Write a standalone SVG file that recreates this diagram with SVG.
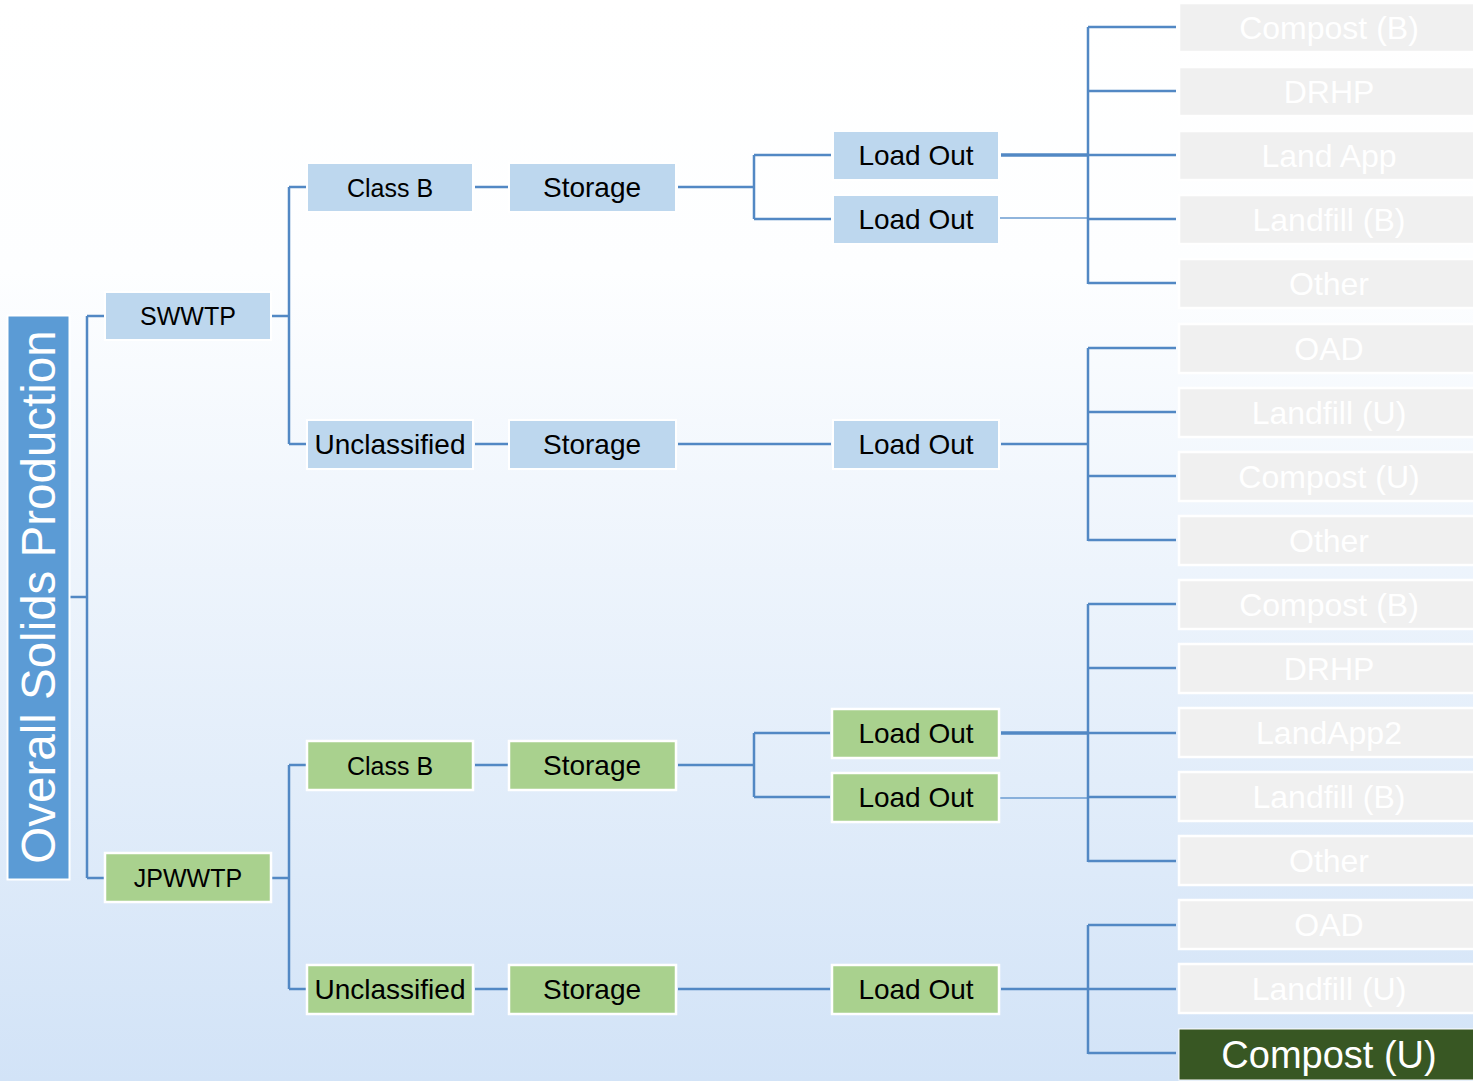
<svg xmlns="http://www.w3.org/2000/svg" width="1473" height="1081" viewBox="0 0 1473 1081">
<defs>
<linearGradient id="bg" x1="0" y1="0" x2="0" y2="1">
<stop offset="0" stop-color="#ffffff"/>
<stop offset="0.25" stop-color="#fdfeff"/>
<stop offset="1" stop-color="#d2e3f7"/>
</linearGradient>
</defs>
<style>
text{font-family:"Liberation Sans",Arial,sans-serif;text-anchor:middle}
.blue rect{fill:#bdd7ee;stroke:#ffffff;stroke-width:2}
.green rect{fill:#a9d18e;stroke:#ffffff;stroke-width:2.5}
.gray rect{fill:#f0f0f0;stroke:#ffffff;stroke-width:2.5}
.blue text,.green text{fill:#000000;font-size:28px}
.blue text.sm,.green text.sm{font-size:25px}
.gray text{fill:#ffffff;font-size:32px}
.conn path{fill:none;stroke:#5288c4;stroke-width:2.5}
.conn .thin{stroke-width:1.5;stroke:#6a9bd0}
.conn .thick{stroke-width:3.5}
</style>
<rect x="0" y="0" width="1473" height="1081" fill="url(#bg)"/>

<g id="connectors" class="conn">
<path d="M69,597 H87 M87,316 V878 M87,316 H104 M87,878 H104"/>
<path d="M272,316 H289 M289,187 V444 M289,187 H306 M289,444 H306"/>
<path d="M272,878 H289 M289,765 V989 M289,765 H306 M289,989 H306"/>
<path d="M475,187 H508 M678,187 H754 M754,155 V219 M754,155 H831 M754,219 H831"/>
<path d="M475,444 H508 M678,444 H831 M1001,444 H1088"/>
<path d="M475,765 H508 M678,765 H754 M754,733 V797 M754,733 H830 M754,797 H830"/>
<path d="M475,989 H508 M678,989 H830 M1001,989 H1088"/>
<path class="thick" d="M1001,155 H1088"/>
<path class="thin" d="M1000,218 H1088"/>
<path class="thick" d="M1001,733 H1088"/>
<path class="thin" d="M1000,798 H1088"/>
<path d="M1088,27 V284 M1088,27 H1176 M1088,91 H1176 M1088,155 H1176 M1088,219 H1176 M1088,283 H1176"/>
<path d="M1088,348 V541 M1088,348 H1176 M1088,412 H1176 M1088,476 H1176 M1088,540 H1176"/>
<path d="M1088,604 V862 M1088,604 H1176 M1088,668 H1176 M1088,733 H1176 M1088,797 H1176 M1088,861 H1176"/>
<path d="M1088,925 V1054 M1088,925 H1176 M1088,989 H1176 M1088,1053 H1176"/>
</g>

<g id="root">
<rect x="7.5" y="315.5" width="62" height="564" fill="#5b9bd5" stroke="#ffffff" stroke-width="2"/>
<text transform="translate(55,597) rotate(-90)" fill="#ffffff" font-size="47.5">Overall Solids Production</text>
</g>

<g id="swwtp" class="blue"><rect x="105" y="292" width="166" height="48"/><text class="sm" x="188" y="325">SWWTP</text></g>
<g id="jpwwtp" class="green"><rect x="105" y="853" width="166" height="49"/><text class="sm" x="188" y="887">JPWWTP</text></g>

<g id="classb1" class="blue"><rect x="307" y="163" width="166" height="49"/><text class="sm" x="390" y="197">Class B</text></g>
<g id="storage1" class="blue"><rect x="509" y="163" width="167" height="49"/><text x="592" y="197">Storage</text></g>
<g id="loadout1a" class="blue"><rect x="833" y="131" width="166" height="49"/><text x="916" y="165">Load Out</text></g>
<g id="loadout1b" class="blue"><rect x="833" y="195" width="166" height="49"/><text x="916" y="229">Load Out</text></g>
<g id="uncl1" class="blue"><rect x="307" y="420" width="166" height="49"/><text x="390" y="454">Unclassified</text></g>
<g id="storage2" class="blue"><rect x="509" y="420" width="167" height="49"/><text x="592" y="454">Storage</text></g>
<g id="loadout2" class="blue"><rect x="833" y="420" width="166" height="49"/><text x="916" y="454">Load Out</text></g>

<g id="classb2" class="green"><rect x="307" y="741" width="166" height="49"/><text class="sm" x="390" y="775">Class B</text></g>
<g id="storage3" class="green"><rect x="509" y="741" width="167" height="49"/><text x="592" y="775">Storage</text></g>
<g id="loadout3a" class="green"><rect x="832" y="709" width="167" height="49"/><text x="916" y="743">Load Out</text></g>
<g id="loadout3b" class="green"><rect x="832" y="773" width="167" height="49"/><text x="916" y="807">Load Out</text></g>
<g id="uncl2" class="green"><rect x="307" y="965" width="166" height="49"/><text x="390" y="999">Unclassified</text></g>
<g id="storage4" class="green"><rect x="509" y="965" width="167" height="49"/><text x="592" y="999">Storage</text></g>
<g id="loadout4" class="green"><rect x="832" y="965" width="167" height="49"/><text x="916" y="999">Load Out</text></g>

<g id="out1" class="gray"><rect x="1179" y="3" width="296" height="49"/><text x="1329" y="39">Compost (B)</text></g>
<g id="out2" class="gray"><rect x="1179" y="67" width="296" height="49"/><text x="1329" y="103">DRHP</text></g>
<g id="out3" class="gray"><rect x="1179" y="131" width="296" height="49"/><text x="1329" y="167">Land App</text></g>
<g id="out4" class="gray"><rect x="1179" y="195" width="296" height="49"/><text x="1329" y="231">Landfill (B)</text></g>
<g id="out5" class="gray"><rect x="1179" y="259" width="296" height="49"/><text x="1329" y="295">Other</text></g>
<g id="out6" class="gray"><rect x="1179" y="324" width="296" height="49"/><text x="1329" y="360">OAD</text></g>
<g id="out7" class="gray"><rect x="1179" y="388" width="296" height="49"/><text x="1329" y="424">Landfill (U)</text></g>
<g id="out8" class="gray"><rect x="1179" y="452" width="296" height="49"/><text x="1329" y="488">Compost (U)</text></g>
<g id="out9" class="gray"><rect x="1179" y="516" width="296" height="49"/><text x="1329" y="552">Other</text></g>
<g id="out10" class="gray"><rect x="1179" y="580" width="296" height="49"/><text x="1329" y="616">Compost (B)</text></g>
<g id="out11" class="gray"><rect x="1179" y="644" width="296" height="49"/><text x="1329" y="680">DRHP</text></g>
<g id="out12" class="gray"><rect x="1179" y="708" width="296" height="49"/><text x="1329" y="744">LandApp2</text></g>
<g id="out13" class="gray"><rect x="1179" y="772" width="296" height="49"/><text x="1329" y="808">Landfill (B)</text></g>
<g id="out14" class="gray"><rect x="1179" y="836" width="296" height="49"/><text x="1329" y="872">Other</text></g>
<g id="out15" class="gray"><rect x="1179" y="900" width="296" height="49"/><text x="1329" y="936">OAD</text></g>
<g id="out16" class="gray"><rect x="1179" y="964" width="296" height="49"/><text x="1329" y="1000">Landfill (U)</text></g>
<g id="out17"><rect x="1179" y="1029" width="296" height="51" fill="#385723" stroke="#ffffff" stroke-width="1"/><text x="1329" y="1068" fill="#ffffff" font-size="38">Compost (U)</text></g>
</svg>
